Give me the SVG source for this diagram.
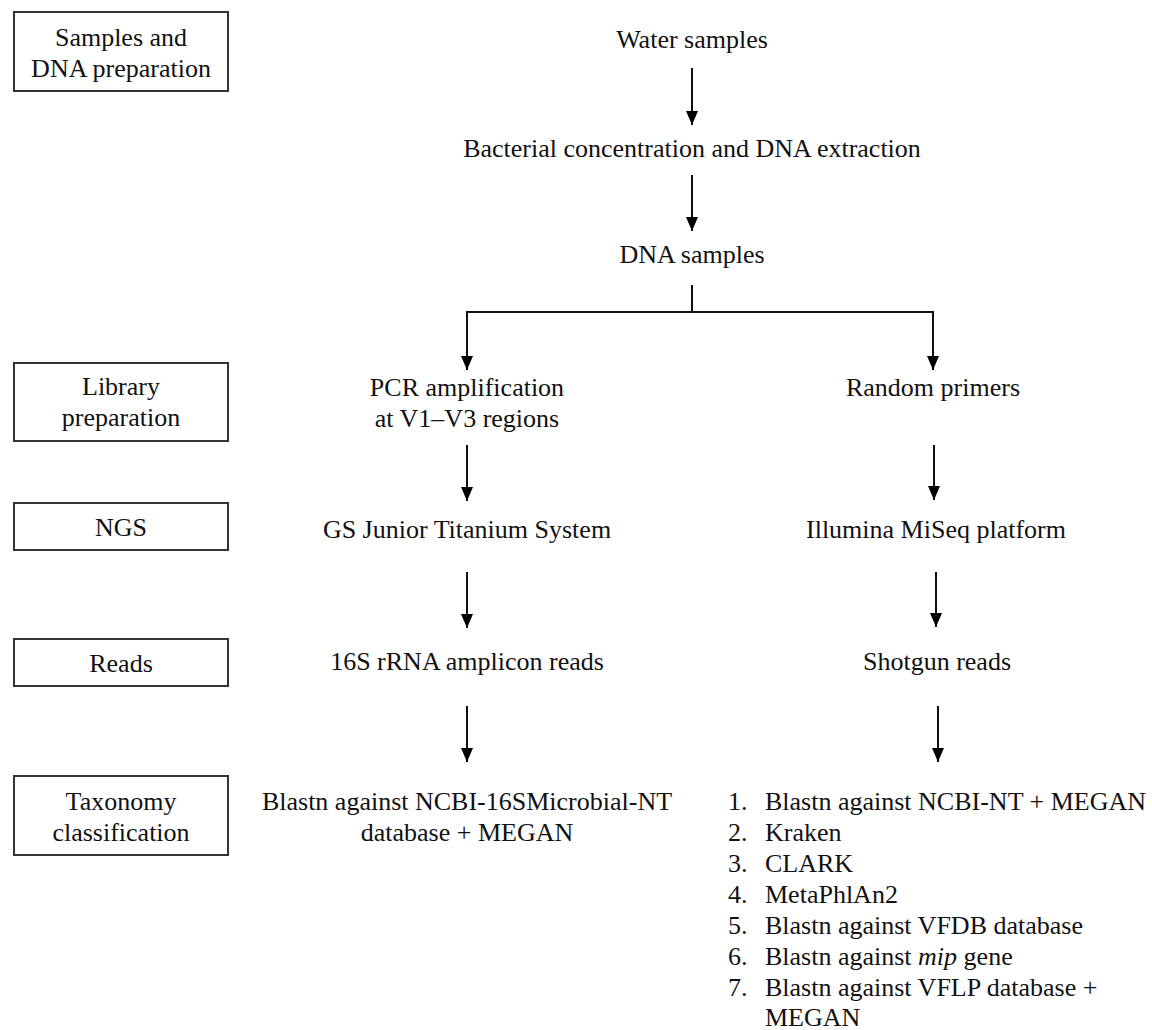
<svg xmlns="http://www.w3.org/2000/svg" width="1152" height="1030" viewBox="0 0 1152 1030">
<defs>
<marker id="ah" viewBox="0 0 14 12" refX="14" refY="6" markerWidth="14" markerHeight="12" markerUnits="userSpaceOnUse" orient="auto">
<path d="M0,0 L14,6 L0,12 Z" fill="#000"/>
</marker>
<style>
text{font-family:"Liberation Serif","Times New Roman",serif;font-size:26px;fill:#111}
.c{text-anchor:middle}
.box{fill:#fff;stroke:#333;stroke-width:2}
.ln{stroke:#111;stroke-width:2;fill:none}
.ar{stroke:#111;stroke-width:2;fill:none;marker-end:url(#ah)}
</style>
</defs>
<rect width="1152" height="1030" fill="#fff"/>
<g id="stage-samples"><rect class="box" x="14" y="12" width="214" height="79"/><text class="c" x="121" y="46">Samples and</text><text class="c" x="121" y="77">DNA preparation</text></g>
<g id="stage-library"><rect class="box" x="14" y="363" width="214" height="78"/><text class="c" x="121" y="395">Library</text><text class="c" x="121" y="426">preparation</text></g>
<g id="stage-ngs"><rect class="box" x="14" y="503" width="214" height="47"/><text class="c" x="121" y="536">NGS</text></g>
<g id="stage-reads"><rect class="box" x="14" y="639" width="214" height="47"/><text class="c" x="121" y="672">Reads</text></g>
<g id="stage-taxonomy"><rect class="box" x="14" y="776" width="214" height="79"/><text class="c" x="121" y="810">Taxonomy</text><text class="c" x="121" y="841">classification</text></g>
<g id="water"><text class="c" x="692" y="48">Water samples</text></g>
<g id="extraction"><text class="c" x="692" y="157">Bacterial concentration and DNA extraction</text></g>
<g id="dna"><text class="c" x="692" y="263">DNA samples</text></g>
<g id="pcr"><text class="c" x="467" y="396">PCR amplification</text><text class="c" x="467" y="427">at V1–V3 regions</text></g>
<g id="random"><text class="c" x="933" y="396">Random primers</text></g>
<g id="gs"><text class="c" x="467" y="538">GS Junior Titanium System</text></g>
<g id="illumina"><text class="c" x="936" y="538">Illumina MiSeq platform</text></g>
<g id="amplicon"><text class="c" x="467" y="670">16S rRNA amplicon reads</text></g>
<g id="shotgun"><text class="c" x="937" y="670">Shotgun reads</text></g>
<g id="blast16s"><text class="c" x="467" y="810">Blastn against NCBI-16SMicrobial-NT</text><text class="c" x="467" y="841">database + MEGAN</text></g>
<g id="tools">
<text x="728" y="810">1.</text><text x="765" y="810">Blastn against NCBI-NT + MEGAN</text>
<text x="728" y="841">2.</text><text x="765" y="841">Kraken</text>
<text x="728" y="872">3.</text><text x="765" y="872">CLARK</text>
<text x="728" y="903">4.</text><text x="765" y="903">MetaPhlAn2</text>
<text x="728" y="934">5.</text><text x="765" y="934">Blastn against VFDB database</text>
<text x="728" y="965">6.</text><text x="765" y="965">Blastn against <tspan font-style="italic">mip</tspan> gene</text>
<text x="728" y="996">7.</text><text x="765" y="996">Blastn against VFLP database +</text>
<text x="765" y="1026">MEGAN</text>
</g>
<g id="connectors">
<line class="ar" x1="692" y1="68" x2="692" y2="125"/>
<line class="ar" x1="692" y1="175" x2="692" y2="231"/>
<polyline class="ln" points="692,285 692,312"/>
<polyline class="ln" points="466,312 934,312"/>
<line class="ar" x1="467" y1="311" x2="467" y2="370"/>
<line class="ar" x1="933" y1="311" x2="933" y2="370"/>
<line class="ar" x1="467" y1="445" x2="467" y2="501"/>
<line class="ar" x1="934" y1="445" x2="934" y2="500"/>
<line class="ar" x1="467" y1="572" x2="467" y2="628"/>
<line class="ar" x1="936" y1="572" x2="936" y2="627"/>
<line class="ar" x1="467" y1="706" x2="467" y2="762"/>
<line class="ar" x1="938" y1="706" x2="938" y2="762"/>
</g>
</svg>
